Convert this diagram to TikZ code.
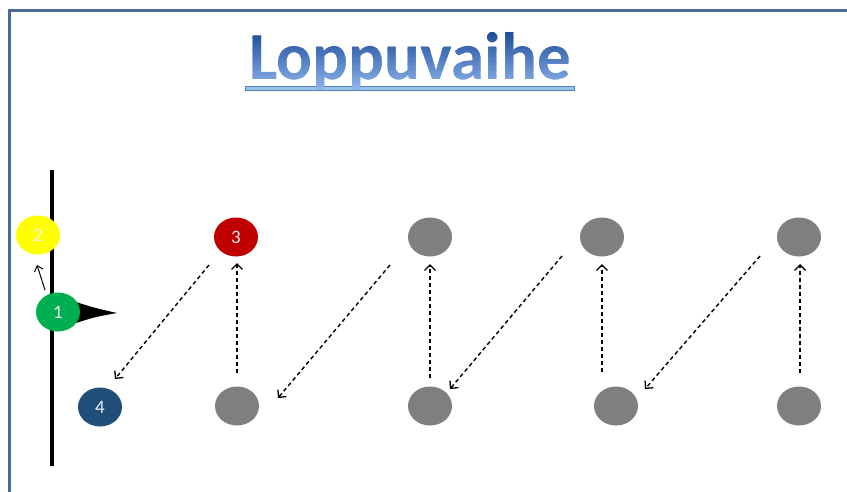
\documentclass[tikz,border=0pt]{standalone}
\usepackage{fontspec}
\setmainfont{Carlito}
\usetikzlibrary{arrows.meta,shapes.geometric}

\definecolor{framec}{HTML}{4A6A98}
\definecolor{ulfill}{HTML}{9DC3E6}
\definecolor{ulline}{HTML}{4F81BD}
\definecolor{ttop}{HTML}{1C4A98}
\definecolor{tbot}{HTML}{8FB6EE}
\definecolor{pyellow}{HTML}{FFFF00}
\definecolor{pgreen}{HTML}{00B050}
\definecolor{pred}{HTML}{C00000}
\definecolor{pblue}{HTML}{1F4E79}
\definecolor{cone}{HTML}{7F7F7F}
\definecolor{numc}{HTML}{F2F2F2}

\begin{document}
\begin{tikzpicture}[x=1pt,y=-1pt,
  titletext/.style={anchor=base, inner sep=0pt,
                    font=\bfseries\fontsize{67}{67}\selectfont},
  player/.style={ellipse, minimum width=44pt, minimum height=39pt,
                 inner sep=0pt, text=numc, font=\fontsize{19}{19}\selectfont},
  marker/.style={player, fill=cone},
  run/.style={dashed, dash pattern=on 4pt off 3pt, line width=1.4pt,
              -{Straight Barb[length=5.5pt,width=11pt,line width=1.3pt]}},
  step1/.style={line width=1pt,
              -{Straight Barb[length=5pt,width=9pt,line width=1pt]}}]

\useasboundingbox (0,0) rectangle (847,491);
\fill[white] (0,0) rectangle (847,491);

% frame
\draw[framec, line width=3pt] (9,495) -- (9,10) -- (850,10);

% title: underline, then lettering shaded band by band
\fill[ulfill, draw=ulline, line width=0.8pt] (245,86) rectangle (574,90);
\foreach \k in {0,...,23} {
  \pgfmathsetmacro{\pct}{100*\k/23}
  \colorlet{bandc}{tbot!\pct!ttop}
  \begin{scope}
    \clip (230,{30+\k*2.6}) rectangle (590,{30+(\k+1)*2.6+0.3});
    \node[titletext, text=bandc] (title\k) at (410,79) {Loppuvaihe};
  \end{scope}
}

% line and cone
\draw[black, line width=4.5pt] (52,170) -- (52,466);
\fill[black] (76,302) .. controls (95,308) .. (117,313)
             .. controls (95,317) .. (76,323) -- cycle;

% players
\node[player, fill=pyellow] (p2) at (38,235) {2};
\node[player, fill=pgreen]  (p1) at (58,312) {1};
\node[player, fill=pred]    (p3) at (236,237) {3};
\node[player, fill=pblue]   (p4) at (100,407) {4};

% markers
\node[marker] (t1) at (430,237) {};
\node[marker] (t2) at (602,237) {};
\node[marker] (t3) at (799,237) {};
\node[marker] (b1) at (237,406) {};
\node[marker] (b2) at (430,406) {};
\node[marker] (b3) at (616,406) {};
\node[marker] (b4) at (799,406) {};

% arrow ends
\coordinate (s0) at (45,290);  \coordinate (e0) at (37,265);
\coordinate (s1) at (209,265); \coordinate (e1) at (115,379);
\coordinate (s2) at (237,373); \coordinate (e2) at (237,263);
\coordinate (s3) at (390,265); \coordinate (e3) at (278,398);
\coordinate (s4) at (430,378); \coordinate (e4) at (430,264);
\coordinate (s5) at (562,256); \coordinate (e5) at (450,389);
\coordinate (s6) at (602,372); \coordinate (e6) at (602,264);
\coordinate (s7) at (760,256); \coordinate (e7) at (645,389);
\coordinate (s8) at (800,373); \coordinate (e8) at (800,264);

\draw[step1] (s0) -- (e0);
\foreach \i in {1,...,8} \draw[run] (s\i) -- (e\i);

\end{tikzpicture}
\end{document}
